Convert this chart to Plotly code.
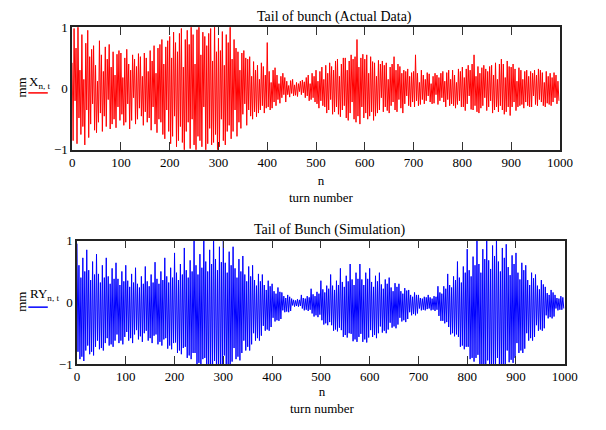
import plotly.graph_objects as go

# turn numbers (sampled every 2 turns)
turns = list(range(0, 1000, 2))

# Tail of bunch (Actual Data), mm
x_actual = [
    0.42, -0.85, 0.98, -0.20, 0.66, -0.90, 1.05, -0.48, 0.30, -0.75,
    0.88, -0.62, 0.15, -0.92, 0.74, -0.35, 0.95, -0.80, 0.52, -0.58,
    0.64, -0.25, 0.70, -0.68, 0.38, -0.72, 0.12, -0.55, 0.78, -0.40,
    0.55, -0.70, 0.28, -0.45, 0.68, -0.62, 0.48, -0.18, 0.72, -0.66,
    0.35, -0.58, 0.60, -0.50, 0.22, -0.64, 0.56, -0.30, 0.62, -0.52,
    0.58, -0.42, 0.18, -0.60, 0.50, -0.55, 0.64, -0.25, 0.40, -0.66,
    0.30, -0.52, 0.55, -0.15, 0.48, -0.58, 0.36, -0.50, 0.57, -0.32,
    0.52, -0.45, 0.20, -0.60, 0.58, -0.38, 0.50, -0.55, 0.28, -0.48,
    0.62, -0.68, 0.45, -0.30, 0.70, -0.58, 0.25, -0.72, 0.66, -0.50,
    0.72, -0.55, 0.80, -0.75, 0.40, -0.82, 0.68, -0.35, 0.78, -0.70,
    0.85, -0.90, 0.50, -0.78, 0.92, -0.45, 0.75, -0.95, 0.60, -0.85,
    0.90, -0.62, 0.98, -0.88, 0.35, -1.05, 0.80, -0.70, 0.95, -0.55,
    0.72, -0.98, 1.05, -0.50, 0.88, -0.92, 0.40, -1.05, 0.96, -0.78,
    1.05, -0.85, 0.55, -0.95, 0.92, -0.30, 0.85, -1.05, 0.70, -0.90,
    0.90, -0.65, 0.98, -0.92, 0.45, -0.88, 1.05, -0.75, 0.60, -1.00,
    0.82, -0.95, 0.62, -0.50, 0.93, -0.85, 0.38, -0.92, 0.88, -0.70,
    0.75, -0.60, 1.05, -0.82, 0.48, -0.70, 0.80, -0.35, 0.66, -0.78,
    0.60, -0.55, 0.30, -0.65, 0.58, -0.42, 0.62, -0.25, 0.50, -0.60,
    0.48, -0.35, 0.52, -0.45, 0.20, -0.50, 0.44, -0.38, 0.30, -0.46,
    0.38, -0.40, 0.15, -0.35, 0.42, -0.28, 0.36, -0.40, 0.22, -0.32,
    0.75, -0.30, 0.28, -0.35, 0.10, -0.32, 0.30, -0.22, 0.34, -0.28,
    0.22, -0.18, 0.08, -0.24, 0.20, -0.15, 0.25, -0.10, 0.18, -0.22,
    0.12, -0.10, 0.05, -0.14, 0.13, -0.08, 0.15, -0.12, 0.06, -0.11,
    0.10, -0.13, 0.08, -0.05, 0.12, -0.10, 0.14, -0.07, 0.11, -0.15,
    0.18, -0.12, 0.22, -0.20, 0.08, -0.18, 0.25, -0.15, 0.20, -0.22,
    0.30, -0.25, 0.12, -0.32, 0.28, -0.20, 0.35, -0.28, 0.15, -0.30,
    0.38, -0.40, 0.25, -0.35, 0.42, -0.18, 0.36, -0.42, 0.30, -0.38,
    0.45, -0.30, 0.48, -0.42, 0.20, -0.46, 0.40, -0.35, 0.50, -0.28,
    0.50, -0.48, 0.30, -0.52, 0.45, -0.40, 0.55, -0.22, 0.48, -0.50,
    0.52, -0.55, 0.80, -0.45, 0.35, -0.58, 0.50, -0.30, 0.56, -0.48,
    0.48, -0.40, 0.55, -0.50, 0.25, -0.45, 0.52, -0.38, 0.44, -0.52,
    0.42, -0.45, 0.20, -0.40, 0.46, -0.35, 0.40, -0.15, 0.45, -0.38,
    0.38, -0.30, 0.42, -0.36, 0.15, -0.40, 0.35, -0.28, 0.40, -0.22,
    0.52, -0.35, 0.30, -0.38, 0.40, -0.18, 0.36, -0.32, 0.25, -0.40,
    0.30, -0.25, 0.28, -0.12, 0.32, -0.28, 0.20, -0.30, 0.26, -0.22,
    0.28, -0.30, 0.55, -0.20, 0.25, -0.28, 0.10, -0.26, 0.30, -0.18,
    0.22, -0.25, 0.15, -0.20, 0.26, -0.12, 0.24, -0.22, 0.08, -0.25,
    0.20, -0.24, 0.25, -0.10, 0.22, -0.26, 0.18, -0.20, 0.25, -0.15,
    0.28, -0.22, 0.12, -0.30, 0.26, -0.18, 0.30, -0.28, 0.15, -0.25,
    0.30, -0.28, 0.22, -0.32, 0.10, -0.26, 0.32, -0.20, 0.28, -0.30,
    0.35, -0.30, 0.18, -0.36, 0.32, -0.25, 0.38, -0.12, 0.30, -0.34,
    0.40, -0.35, 0.55, -0.28, 0.20, -0.38, 0.36, -0.40, 0.25, -0.32,
    0.34, -0.28, 0.38, -0.15, 0.32, -0.36, 0.28, -0.30, 0.36, -0.20,
    0.38, -0.40, 0.22, -0.35, 0.42, -0.30, 0.15, -0.38, 0.40, -0.28,
    0.48, -0.35, 0.40, -0.42, 0.18, -0.38, 0.45, -0.30, 0.36, -0.44,
    0.35, -0.30, 0.40, -0.22, 0.32, -0.36, 0.12, -0.30, 0.34, -0.28,
    0.30, -0.26, 0.15, -0.32, 0.28, -0.22, 0.30, -0.28, 0.20, -0.30,
    0.28, -0.30, 0.25, -0.12, 0.30, -0.26, 0.22, -0.28, 0.32, -0.18,
    0.30, -0.22, 0.26, -0.28, 0.10, -0.30, 0.28, -0.24, 0.20, -0.26,
    0.25, -0.28, 0.18, -0.22, 0.26, -0.15, 0.22, -0.25, 0.12, -0.20,
]

# Tail of Bunch (Simulation), mm
ry_sim = [
    0.95, -0.80, 0.60, -0.92, 0.40, -0.88, 0.72, -0.95, 0.50, -0.78,
    0.85, -0.70, 0.52, -0.84, 0.36, -0.80, 0.66, -0.86, 0.45, -0.72,
    0.78, -0.62, 0.46, -0.76, 0.32, -0.74, 0.60, -0.78, 0.40, -0.66,
    0.72, -0.58, 0.42, -0.70, 0.30, -0.68, 0.55, -0.72, 0.38, -0.62,
    0.64, -0.52, 0.38, -0.66, 0.28, -0.62, 0.50, -0.68, 0.34, -0.56,
    0.60, -0.48, 0.35, -0.62, 0.25, -0.58, 0.46, -0.66, 0.32, -0.52,
    0.56, -0.45, 0.30, -0.60, 0.24, -0.55, 0.42, -0.64, 0.30, -0.50,
    0.58, -0.46, 0.34, -0.62, 0.26, -0.58, 0.45, -0.66, 0.32, -0.54,
    0.65, -0.52, 0.38, -0.68, 0.30, -0.64, 0.50, -0.70, 0.36, -0.60,
    0.72, -0.58, 0.42, -0.75, 0.32, -0.70, 0.56, -0.76, 0.40, -0.66,
    0.80, -0.65, 0.48, -0.82, 0.36, -0.78, 0.62, -0.84, 0.45, -0.74,
    0.88, -0.72, 0.52, -0.90, 0.40, -0.86, 0.68, -0.92, 0.50, -0.82,
    1.00, -0.82, 0.60, -1.02, 0.45, -0.98, 0.78, -1.05, 0.56, -0.92,
    1.10, -0.90, 0.66, -1.12, 0.50, -1.08, 0.85, -1.15, 0.62, -1.02,
    1.15, -0.95, 0.70, -1.18, 0.52, -1.12, 0.90, -1.20, 0.65, -1.06,
    1.05, -0.86, 0.64, -1.08, 0.48, -1.02, 0.82, -1.10, 0.60, -0.96,
    0.90, -0.74, 0.55, -0.92, 0.40, -0.88, 0.70, -0.94, 0.50, -0.82,
    0.75, -0.62, 0.45, -0.78, 0.34, -0.72, 0.58, -0.78, 0.42, -0.68,
    0.60, -0.50, 0.36, -0.62, 0.27, -0.58, 0.46, -0.62, 0.34, -0.54,
    0.45, -0.38, 0.28, -0.46, 0.20, -0.44, 0.35, -0.46, 0.26, -0.40,
    0.30, -0.25, 0.18, -0.31, 0.14, -0.29, 0.24, -0.30, 0.17, -0.27,
    0.16, -0.13, 0.10, -0.16, 0.07, -0.15, 0.12, -0.16, 0.09, -0.14,
    0.06, -0.05, 0.04, -0.07, 0.03, -0.06, 0.05, -0.07, 0.04, -0.06,
    0.12, -0.10, 0.07, -0.13, 0.06, -0.12, 0.10, -0.14, 0.08, -0.12,
    0.22, -0.18, 0.13, -0.23, 0.10, -0.21, 0.17, -0.24, 0.14, -0.20,
    0.35, -0.29, 0.21, -0.36, 0.16, -0.34, 0.27, -0.37, 0.22, -0.32,
    0.45, -0.37, 0.27, -0.46, 0.20, -0.44, 0.35, -0.47, 0.28, -0.41,
    0.55, -0.45, 0.33, -0.56, 0.25, -0.53, 0.43, -0.57, 0.34, -0.50,
    0.62, -0.51, 0.37, -0.63, 0.28, -0.60, 0.48, -0.64, 0.38, -0.56,
    0.62, -0.51, 0.37, -0.64, 0.28, -0.60, 0.48, -0.65, 0.38, -0.57,
    0.55, -0.45, 0.33, -0.56, 0.25, -0.53, 0.43, -0.58, 0.34, -0.50,
    0.48, -0.39, 0.29, -0.49, 0.22, -0.46, 0.37, -0.50, 0.30, -0.44,
    0.40, -0.33, 0.24, -0.41, 0.18, -0.39, 0.31, -0.42, 0.25, -0.36,
    0.30, -0.25, 0.18, -0.31, 0.14, -0.29, 0.23, -0.32, 0.19, -0.27,
    0.20, -0.16, 0.12, -0.21, 0.09, -0.19, 0.16, -0.21, 0.12, -0.18,
    0.12, -0.10, 0.07, -0.13, 0.06, -0.12, 0.09, -0.13, 0.08, -0.11,
    0.12, -0.10, 0.08, -0.13, 0.06, -0.12, 0.10, -0.14, 0.09, -0.12,
    0.26, -0.22, 0.16, -0.30, 0.14, -0.30, 0.26, -0.34, 0.22, -0.32,
    0.46, -0.40, 0.28, -0.52, 0.24, -0.50, 0.42, -0.55, 0.36, -0.52,
    0.66, -0.56, 0.40, -0.72, 0.32, -0.70, 0.58, -0.76, 0.48, -0.72,
    0.86, -0.72, 0.52, -0.92, 0.42, -0.90, 0.74, -0.96, 0.60, -0.90,
    1.02, -0.85, 0.62, -1.08, 0.48, -1.05, 0.86, -1.12, 0.70, -1.02,
    1.12, -0.94, 0.68, -1.18, 0.54, -1.14, 0.92, -1.20, 0.75, -1.10,
    1.08, -0.90, 0.66, -1.12, 0.50, -1.08, 0.88, -1.14, 0.72, -1.05,
    0.94, -0.78, 0.57, -0.97, 0.44, -0.93, 0.76, -0.98, 0.62, -0.90,
    0.80, -0.66, 0.48, -0.82, 0.37, -0.78, 0.64, -0.82, 0.52, -0.75,
    0.60, -0.50, 0.36, -0.62, 0.28, -0.58, 0.48, -0.62, 0.39, -0.56,
    0.45, -0.37, 0.27, -0.46, 0.21, -0.44, 0.36, -0.46, 0.29, -0.42,
    0.25, -0.21, 0.15, -0.26, 0.12, -0.24, 0.20, -0.26, 0.16, -0.23,
    0.12, -0.10, 0.07, -0.13, 0.06, -0.12, 0.10, -0.12, 0.08, -0.10,
]

x_ticks = [0, 100, 200, 300, 400, 500, 600, 700, 800, 900, 1000]
y_ticks = [-1, 0, 1]

FONT = "Liberation Serif, Times New Roman, serif"
W, H = 606, 430


def px(x):
    return x / W


def py(y):
    return 1 - y / H


fig = go.Figure()
fig.add_trace(go.Scatter(x=turns, y=x_actual, mode="lines",
                         line=dict(color="#ff0000", width=1),
                         xaxis="x", yaxis="y", showlegend=False))
fig.add_trace(go.Scatter(x=turns, y=ry_sim, mode="lines",
                         line=dict(color="#0000ff", width=1),
                         xaxis="x2", yaxis="y2", showlegend=False))


def xax(dom, anchor):
    return dict(domain=dom, anchor=anchor, range=[0, 1000], tickvals=x_ticks,
                ticks="inside", ticklen=8, tickcolor="#333", tickwidth=1,
                mirror="allticks", showline=True, linecolor="#222", linewidth=1.5,
                showgrid=False, zeroline=False,
                tickfont=dict(family=FONT, size=13, color="black"))


def yax(dom, anchor):
    return dict(domain=dom, anchor=anchor, range=[-1, 1], tickvals=y_ticks,
                ticks="", mirror=True, showline=True, linecolor="#222", linewidth=1.5,
                showgrid=False, zeroline=False,
                tickfont=dict(family=FONT, size=13, color="black"))


fig.update_layout(
    width=W, height=H, margin=dict(l=0, r=0, t=0, b=0),
    paper_bgcolor="white", plot_bgcolor="white",
    xaxis=xax([px(71), px(572)], "y"),
    yaxis=yax([py(148), py(21)], "x"),
    xaxis2=xax([px(76), px(577)], "y2"),
    yaxis2=yax([py(370), py(242)], "x2"),
    font=dict(family=FONT, size=13, color="black"),
)

ann = [
    ("Tail of bunch (Actual Data)", 340, 10, 0, 14),
    ("n<br>turn number", 327, 189, 0, 13),
    ("Tail of Bunch (Simulation)", 335, 231, 0, 14),
    ("n<br>turn number", 328, 407, 0, 13),
    ("mm", 19, 83, -90, 13),
    ("mm", 19, 305, -90, 13),
    ("X<sub>n, t</sub>", 38, 78, 0, 13),
    ("RY<sub>n, t</sub>", 43, 298, 0, 13),
]
for text, x, y, ang, sz in ann:
    fig.add_annotation(text=text, x=px(x), y=py(y), xref="paper", yref="paper",
                       showarrow=False, textangle=ang,
                       font=dict(family=FONT, size=sz, color="black"),
                       xanchor="center", yanchor="middle")

fig.add_shape(type="line", xref="paper", yref="paper",
              x0=px(26), x1=px(46), y0=py(89), y1=py(89),
              line=dict(color="#ff0000", width=1.5))
fig.add_shape(type="line", xref="paper", yref="paper",
              x0=px(26), x1=px(46), y0=py(311), y1=py(311),
              line=dict(color="#0000ff", width=1.5))

fig.write_html("out.html",
               config={"displayModeBar": False},
               post_script="document.body.style.margin='0px';"
                           "document.body.style.overflow='hidden';")
